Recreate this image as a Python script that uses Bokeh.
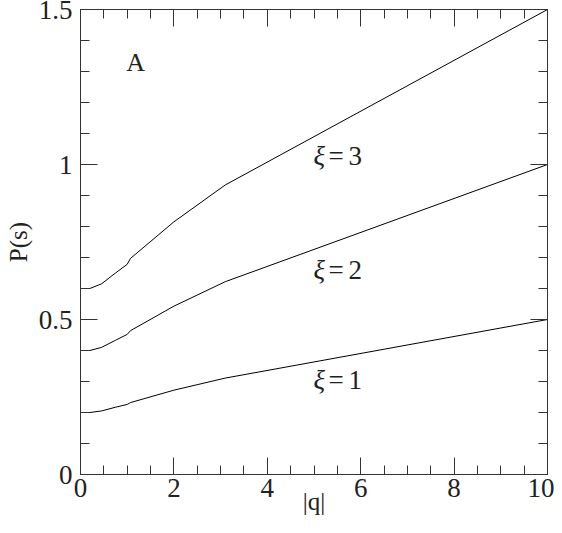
from bokeh.plotting import figure
from bokeh.models import FixedTicker, LinearAxis, Range1d
from bokeh.core.properties import value
from bokeh.embed import file_html
from bokeh.resources import INLINE

# ---- data ----
q = [0.0, 0.2, 0.45, 0.75, 1.0, 1.07, 2.0, 3.1, 10.0]
p_xi1 = [0.200, 0.200, 0.205, 0.217, 0.226, 0.232, 0.272, 0.311, 0.500]
p_xi2 = [0.400, 0.400, 0.410, 0.433, 0.452, 0.464, 0.543, 0.622, 1.000]
p_xi3 = [0.600, 0.600, 0.615, 0.650, 0.678, 0.697, 0.815, 0.934, 1.500]

x_major = [0, 2, 4, 6, 8, 10]
x_minor = [i * 0.5 for i in range(0, 21)]
y_major = [0, 0.5, 1.0, 1.5]
y_minor = [i * 0.1 for i in range(0, 16)]
y_labels = {0: "0", 0.5: "0.5", 1.0: "1", 1.5: "1.5"}

label_q = [4.99, 4.99, 4.99]
label_p = [1.027, 0.660, 0.306]
label_n = ["3", "2", "1"]

FONT = "Liberation Serif"
AX = "#333333"
TXT = "#222222"

p = figure(width=554, height=517, x_range=Range1d(0, 10), y_range=Range1d(0, 1.5),
           output_backend="svg", toolbar_location=None,
           min_border_left=80, min_border_right=7, min_border_top=9, min_border_bottom=40)
p.grid.visible = False
p.outline_line_color = None
p.background_fill_color = "white"
p.border_fill_color = "white"

p.xaxis[0].ticker = FixedTicker(ticks=x_major, minor_ticks=x_minor)
p.yaxis[0].ticker = FixedTicker(ticks=y_major, minor_ticks=y_minor)
p.yaxis[0].major_label_overrides = y_labels

def style(ax):
    ax.axis_line_color = AX
    ax.major_tick_line_color = AX
    ax.minor_tick_line_color = AX
    ax.major_tick_in = 17
    ax.major_tick_out = 0
    ax.minor_tick_in = 9
    ax.minor_tick_out = 0
    ax.major_label_text_font = FONT
    ax.axis_label_text_font = FONT
    ax.axis_label_text_font_style = "normal"
    ax.axis_label_text_color = TXT
    ax.major_label_text_color = TXT
    ax.major_label_text_font_size = "27px"
    ax.axis_label_text_font_size = "25px"

style(p.xaxis[0])
style(p.yaxis[0])
p.xaxis[0].axis_label = "|q|"
p.yaxis[0].axis_label = "P(s)"
p.xaxis[0].major_label_standoff = 4
p.xaxis[0].axis_label_standoff = -12
p.yaxis[0].major_label_standoff = 8
p.yaxis[0].axis_label_standoff = 4

top = LinearAxis(ticker=FixedTicker(ticks=x_major, minor_ticks=x_minor),
                 major_label_overrides={t: "" for t in x_major})
right = LinearAxis(ticker=FixedTicker(ticks=y_major, minor_ticks=y_minor),
                   major_label_overrides={t: "" for t in y_major})
style(top)
style(right)
top.major_label_standoff = 0
right.major_label_standoff = 0
p.add_layout(top, "above")
p.add_layout(right, "right")

for ys in (p_xi1, p_xi2, p_xi3):
    p.line(q, ys, line_color="black", line_width=1)

p.text(x=label_q, y=label_p, text=["ξ", "ξ", "ξ"], text_font=value(FONT),
       text_font_style="italic", text_font_size="27px", text_align="left",
       text_baseline="middle", text_color=TXT)
p.text(x=label_q, y=label_p, text=["=", "=", "="], text_font=value(FONT),
       text_font_size="27px", text_align="left", x_offset=15,
       text_baseline="middle", text_color=TXT)
p.text(x=label_q, y=label_p, text=label_n, text_font=value(FONT),
       text_font_size="27px", text_align="left", x_offset=35,
       text_baseline="middle", text_color=TXT)
p.text(x=[1.18], y=[1.33], text=["A"], text_font=value(FONT),
       text_font_size="26px", text_align="center", text_baseline="middle",
       text_color=TXT)

open("out.html", "w").write(file_html(p, INLINE))
